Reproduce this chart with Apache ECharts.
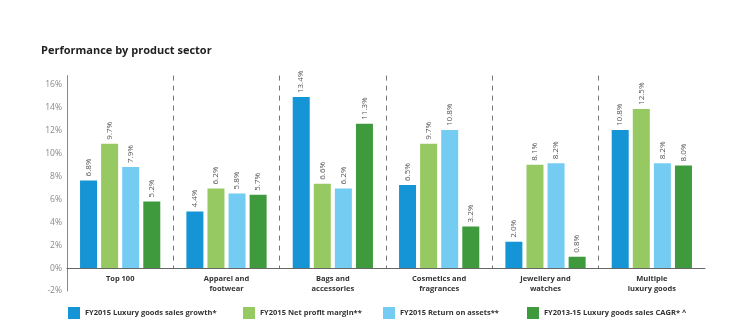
<!DOCTYPE html>
<html>
<head>
<meta charset="utf-8">
<script src="https://cdn.jsdelivr.net/npm/echarts@6/dist/echarts.min.js"></script>
<style>
html,body{margin:0;padding:0;background:#fff;}
#c{width:739px;height:333px;}
</style>
</head>
<body>
<div id="c"></div>
<script>
const categories = ['Top 100', 'Apparel and\nfootwear', 'Bags and\naccessories', 'Cosmetics and\nfragrances', 'Jewellery and\nwatches', 'Multiple\nluxury goods'];
const seriesNames = ['FY2015 Luxury goods sales growth*', 'FY2015 Net profit margin**', 'FY2015 Return on assets**', 'FY2013-15 Luxury goods sales CAGR* ^'];
// bar heights as plotted against the axis in the picture
const salesGrowth = [7.65, 4.94, 14.93, 7.25, 2.30, 12.05];
const netMargin = [10.86, 6.95, 7.36, 10.86, 9.02, 13.89];
const returnAssets = [8.82, 6.52, 6.95, 12.05, 9.14, 9.14];
const salesCagr = [5.82, 6.40, 12.60, 3.63, 0.99, 8.96];
// value labels printed above the bars
const salesGrowthLabels = ['6.8%', '4.4%', '13.4%', '6.5%', '2.0%', '10.8%'];
const netMarginLabels = ['9.7%', '6.2%', '6.6%', '9.7%', '8.1%', '12.5%'];
const returnAssetsLabels = ['7.9%', '5.8%', '6.2%', '10.8%', '8.2%', '8.2%'];
const salesCagrLabels = ['5.2%', '5.7%', '11.3%', '3.2%', '0.8%', '8.0%'];
const yTicks = [-2, 0, 2, 4, 6, 8, 10, 12, 14, 16];

const colors = ['#1595d5', '#96c961', '#74ccf3', '#3f9a3d'];
const values = [salesGrowth, netMargin, returnAssets, salesCagr];
const labels = [salesGrowthLabels, netMarginLabels, returnAssetsLabels, salesCagrLabels];
const legendLeft = [68, 243, 383, 527];
const FONT = '"Open Sans", "Noto Sans", sans-serif';

const chart = echarts.init(document.getElementById('c'), null, {renderer: 'canvas'});
const series = values.map((v, i) => ({
  name: seriesNames[i],
  type: 'bar',
  xAxisIndex: 0,
  yAxisIndex: 0,
  data: v,
  barWidth: 17,
  barGap: '24%',
  itemStyle: {color: colors[i]},
  label: {
    show: true,
    position: 'top',
    rotate: 90,
    align: 'left',
    verticalAlign: 'middle',
    distance: 4,
    fontFamily: FONT,
    fontSize: 8,
    color: '#555',
    formatter: p => labels[i][p.dataIndex]
  }
}));

chart.setOption({
  animation: false,
  backgroundColor: '#fff',
  title: {
    text: 'Performance by product sector',
    left: 41, top: 45, padding: 0,
    textStyle: {fontFamily: FONT, fontSize: 11, fontWeight: 'bold', color: '#222'}
  },
  legend: seriesNames.map((n, i) => ({
    data: [n],
    left: legendLeft[i], top: 307,
    itemWidth: 12, itemHeight: 12, icon: 'rect',
    padding: 0,
    textStyle: {fontFamily: FONT, fontSize: 7.5, fontWeight: 'bold', color: '#333'}
  })),
  grid: [
    {left: 67, right: 34, top: 75.6, bottom: 42},
    {left: 67, right: 34, top: 75.6, bottom: 64.7}
  ],
  xAxis: [
    {
      type: 'category', gridIndex: 0, data: categories,
      axisLine: {onZero: true, lineStyle: {color: '#666', width: 1}},
      axisTick: {show: false},
      splitLine: {show: false},
      axisLabel: {show: false}
    },
    {
      type: 'category', gridIndex: 1, data: categories,
      axisLine: {show: false}, axisTick: {show: false},
      axisLabel: {fontFamily: FONT, fontSize: 7.5, fontWeight: 'bold', color: '#333', margin: 6, lineHeight: 10},
      splitLine: {show: true, showMinLine: false, showMaxLine: false,
        lineStyle: {type: [5, 5], color: '#777', width: 1}}
    }
  ],
  yAxis: [
    {
      type: 'value', gridIndex: 0, min: yTicks[0], max: 16.8, interval: 2,
      axisLine: {show: true, lineStyle: {color: '#888', width: 1}},
      axisTick: {show: false},
      splitLine: {show: false},
      axisLabel: {fontFamily: FONT, fontSize: 8.5, color: '#888', margin: 5, showMaxLabel: false,
        formatter: v => (yTicks.indexOf(v) >= 0 ? v + '%' : '')}
    },
    {
      type: 'value', gridIndex: 1, min: 0, max: 1,
      show: false
    }
  ],
  series: series
});
</script>
</body>
</html>
